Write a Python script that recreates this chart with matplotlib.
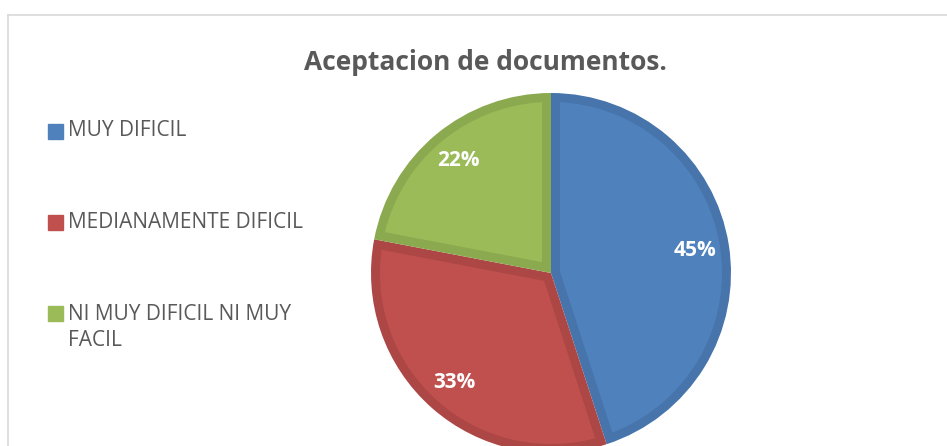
import matplotlib
matplotlib.use("Agg")
import matplotlib.pyplot as plt
import numpy as np
from matplotlib.patches import Rectangle, Polygon

# data
categories = ["MUY DIFICIL", "MEDIANAMENTE DIFICIL", "NI MUY DIFICIL NI MUY\nFACIL"]
values = [45, 33, 22]
colors = ["#4F81BD", "#C0504D", "#9BBB59"]
edges = ["#4674AB", "#AC4745", "#8BA94F"]
title = "Aceptacion de documentos."

W, H = 947, 446
fig = plt.figure(figsize=(W / 100, H / 100), dpi=100)
ax = fig.add_axes([0, 0, 1, 1])

# pie in pixel coordinates (y up); wedges drawn in the darker border colour
cx, cy, r = 551, H - 273, 180
wedges, texts, autotexts = ax.pie(values, colors=edges, startangle=90, counterclock=False,
                                  center=(cx, cy), radius=r, autopct="%1.0f%%", pctdistance=0.81,
                                  textprops=dict(color="white", fontsize=15, fontweight="bold",
                                                 family="Open Sans", zorder=5))
ax.set_xlim(0, W)
ax.set_ylim(0, H)
ax.set_aspect("auto")
ax.axis("off")

# lighter inner face, inset from each wedge's outline
t = 9
for w, c in zip(wedges, colors):
    a1, a2 = w.theta1, w.theta2
    span = np.radians(a2 - a1)
    mid = np.radians((a1 + a2) / 2)
    d = t / np.sin(span / 2)
    apex = (w.center[0] + d * np.cos(mid), w.center[1] + d * np.sin(mid))
    R = w.r - t
    delta = np.degrees(np.arcsin(t / R))
    ang = np.radians(np.linspace(a1 + delta, a2 - delta, 200))
    pts = [apex] + list(zip(w.center[0] + R * np.cos(ang), w.center[1] + R * np.sin(ang)))
    ax.add_patch(Polygon(pts, closed=True, facecolor=c, edgecolor="none", zorder=2))

# chart frame
ax.plot([8, W], [H - 15, H - 15], color="#D9D9D9", lw=1.2, clip_on=False)
ax.plot([8, 8], [H - 15, 0], color="#D9D9D9", lw=1.2, clip_on=False)

ax.text(485, H - 62, title, ha="center", va="center", fontsize=19, fontweight="bold",
        color="#595959", family="Open Sans")

# legend
leg_y = [131, 222, 313]
for lab, c, y in zip(categories, colors, leg_y):
    ax.add_patch(Rectangle((48, H - y - 7.5), 15, 15, color=c))
    tx = ax.text(68, H - y, lab, ha="left", va="center", fontsize=15, color="#595959",
                 family="Open Sans", linespacing=1.3)
    if "\n" in lab:
        tx.set_y(H - y - 14.5)

fig.savefig("out.png", dpi=100)
